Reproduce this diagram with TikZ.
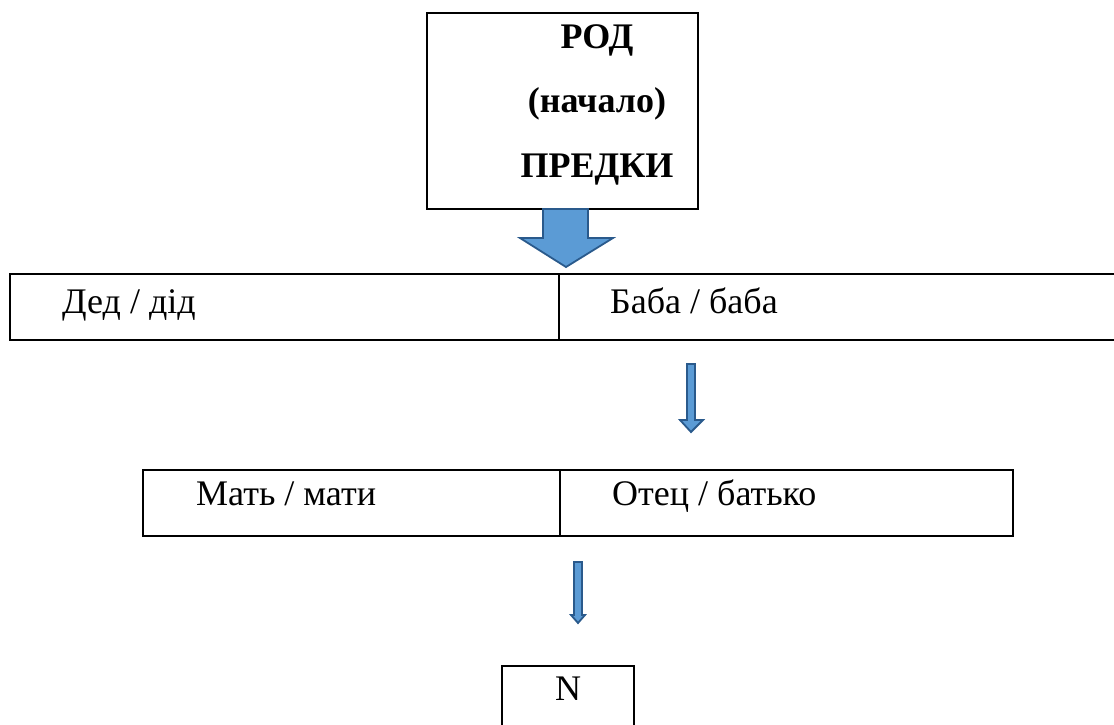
\documentclass[tikz,border=0pt]{standalone}
\usepackage{fontspec}
\setmainfont{Liberation Serif}
\definecolor{arrowfill}{HTML}{5B9BD5}
\definecolor{arrowline}{HTML}{2A5A8C}
\begin{document}
\begin{tikzpicture}[x=1pt,y=-1pt,
  box/.style={draw, line width=2.8pt, inner sep=0pt},
  titletext/.style={font=\fontsize{36}{40}\selectfont\bfseries, anchor=base, inner sep=0pt},
  celltext/.style={font=\fontsize{36}{40}\selectfont, anchor=base west, inner sep=0pt},
  blockarrow/.style={fill=arrowfill, draw=arrowline, line width=1.8pt, line join=miter}]
\useasboundingbox (0,0) rectangle (1114,724);
% top box
\node[box, minimum width=271pt, minimum height=196pt] (top) at (562.5,111) {};
\node[titletext] (t1) at (597,48) {РОД};
\node[titletext] (t2) at (597,112) {(начало)};
\node[titletext] (t3) at (597,177) {ПРЕДКИ};
% big arrow
\draw[blockarrow] (543,209) -- (588,209) -- (588,238) -- (613,238) -- (566,267) -- (520,238) -- (543,238) -- cycle;
% row 1
\node[box, minimum width=549pt, minimum height=66pt] (ded) at (284.5,307) {};
\node[box, minimum width=561pt, minimum height=66pt] (baba) at (839.5,307) {};
\node[celltext] (dedt) at (62,313) {Дед / дід};
\node[celltext] (babat) at (610,313) {Баба / баба};
% arrow 1
\draw[blockarrow] (687,364) -- (695,364) -- (695,420) -- (703,420) -- (691,432) -- (680,420) -- (687,420) -- cycle;
% row 2
\node[box, minimum width=417pt, minimum height=66pt] (mat) at (351.5,503) {};
\node[box, minimum width=453pt, minimum height=66pt] (otec) at (786.5,503) {};
\node[celltext] (matt) at (196,505) {Мать / мати};
\node[celltext] (otect) at (612,505) {Отец / батько};
% arrow 2
\draw[blockarrow] (574,562) -- (582,562) -- (582,615) -- (585,615) -- (578,623) -- (571,615) -- (574,615) -- cycle;
% N box
\node[box, minimum width=132pt, minimum height=80pt] (n) at (568,706) {};
\node[titletext, font=\fontsize{36}{40}\selectfont] (nt) at (568,700) {N};
\end{tikzpicture}
\end{document}
